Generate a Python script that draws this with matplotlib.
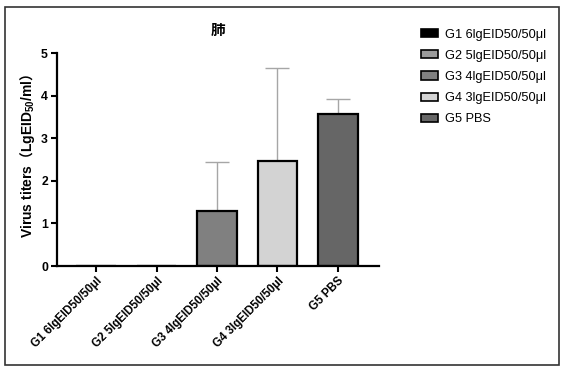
import matplotlib
matplotlib.use("Agg")
import matplotlib.pyplot as plt
from matplotlib.patches import Rectangle, Patch

plt.rcParams['font.family'] = ['Liberation Sans', 'Noto Sans CJK SC', 'DejaVu Sans']
plt.rcParams['mathtext.fontset'] = 'custom'
plt.rcParams['mathtext.rm'] = 'Noto Sans CJK SC:bold'
plt.rcParams['mathtext.bf'] = 'Liberation Sans:bold'
plt.rcParams['mathtext.default'] = 'bf'

# data
groups = ['G1 6lgEID50/50μl', 'G2 5lgEID50/50μl', 'G3 4lgEID50/50μl',
          'G4 3lgEID50/50μl', 'G5 PBS']
means = [0, 0, 1.29, 2.47, 3.56]
err_up = [0, 0, 1.16, 2.17, 0.36]
colors = ['#000000', '#9a9a9a', '#808080', '#d3d3d3', '#666666']

fig = plt.figure(figsize=(5.69, 3.71), dpi=100)
ax = fig.add_axes([0.1002, 0.283, 0.566, 0.574])

x = range(len(groups))
ax.errorbar(x, means, yerr=[[0] * len(means), err_up], fmt='none',
            ecolor='#a6a6a6', elinewidth=1, capsize=8.3, capthick=1, zorder=1)
ax.bar(x, means, width=0.66, color=colors, edgecolor='black', linewidth=1.6, zorder=2)

ax.set_xlim(-0.645, 4.68)
ax.set_ylim(0, 5)
ax.set_yticks([0, 1, 2, 3, 4, 5])
ax.set_xticks(list(x))
ax.set_xticklabels(groups, rotation=45, ha='right', rotation_mode='anchor',
                   fontsize=8.3, fontweight='bold')
for lab in ax.get_yticklabels():
    lab.set_fontweight('bold')
    lab.set_fontsize(8.8)
ax.tick_params(axis='both', direction='out', length=4.5, width=1.5, pad=2)
for s in ['top', 'right']:
    ax.spines[s].set_visible(False)
for s in ['left', 'bottom']:
    ax.spines[s].set_linewidth(1.6)

ax.set_ylabel(r'Virus titers$\mathrm{（}$LgEID$_{50}$/ml$\mathrm{）}$',
              fontsize=10, fontweight='bold')
ax.yaxis.set_label_coords(-0.062, 0.52)
ax.set_title('肺', family=['Noto Sans CJK SC'], fontsize=10.5, fontweight='bold', pad=13)

handles = [Patch(facecolor=c, edgecolor='black', linewidth=1.2) for c in colors]
fig.legend(handles, groups, loc='upper left', bbox_to_anchor=(0.729, 0.94),
           frameon=False, fontsize=9.2, handlelength=1.35, handleheight=0.6,
           handletextpad=0.55, labelspacing=0.72, borderpad=0)

fig.patches.append(Rectangle((5 / 569, 1 - 365 / 371), 554 / 569, 358 / 371,
                             transform=fig.transFigure, fill=False,
                             edgecolor='#333333', linewidth=1.2))

fig.savefig('out.png', dpi=100)
